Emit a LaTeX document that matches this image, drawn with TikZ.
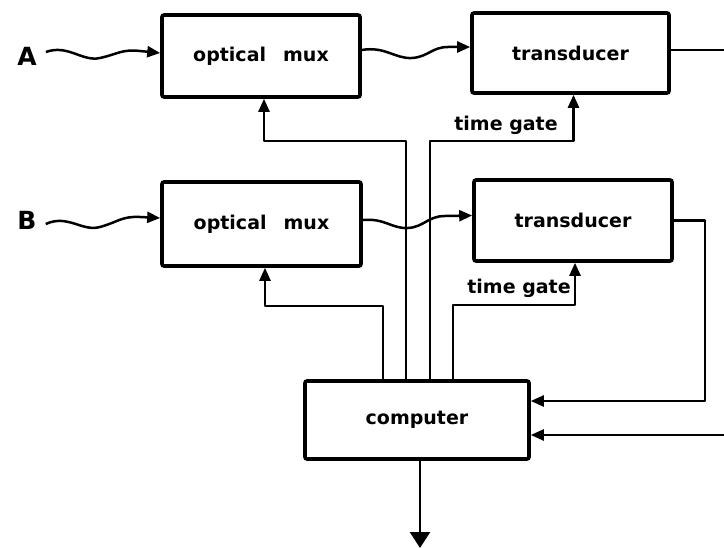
\documentclass[tikz,border=0pt]{standalone}
\usepackage{fontspec}
\setmainfont{DejaVu Sans}
\usetikzlibrary{arrows.meta,calc}
\begin{document}
\begin{tikzpicture}[x=1pt,y=-1pt,
  box/.style={draw,line width=3.6pt,rounded corners=2pt,inner sep=0pt,
    font=\fontsize{19}{22}\selectfont\bfseries},
  conn/.style={line width=2.5pt,line join=round},
  arr/.style={conn,-{Triangle[length=13pt,width=11pt]}},
  bigarr/.style={conn,-{Triangle[length=16pt,width=20pt]}},
  lab/.style={inner sep=0pt,font=\fontsize{19}{22}\selectfont\bfseries},
  big/.style={inner sep=0pt,font=\fontsize{25}{28}\selectfont\bfseries}]
\useasboundingbox (0,0) rectangle (724,548);

\node[box,minimum width=198pt,minimum height=82pt] (muxA) at (261,56) {optical\hspace{0.9em}mux};
\node[box,minimum width=197pt,minimum height=80pt] (transA) at (570.5,53) {transducer};
\node[box,minimum width=199pt,minimum height=84pt] (muxB) at (261.5,224) {optical\hspace{0.9em}mux};
\node[box,minimum width=198pt,minimum height=81pt] (transB) at (573,220.5) {transducer};
\node[box,minimum width=224pt,minimum height=78pt] (comp) at (417,420) {computer};

\node[big] (labA) at (27,56) {A};
\node[big] (labB) at (27,220) {B};
\node[lab] (tgA) at (506,125) {time gate};
\node[lab] (tgB) at (519,288) {time gate};

\coordinate (outA) at (724,50);
\coordinate (inR) at (724,435);
\coordinate (out) at (420,548);

% wavy optical inputs
\draw[arr] ([xshift=9pt,yshift=4pt]labA.east) .. controls (68,44) and (82,62) .. (100,58)
  .. controls (118,54) and (122,49) .. (140,51) -- ([yshift=3pt]muxA.west);
\draw[arr] ([xshift=9pt,yshift=-4pt]labB.east) .. controls (68,214) and (82,232) .. (100,227)
  .. controls (118,222) and (122,216) .. (140,217) -- ([yshift=6pt]muxB.west);
\draw[arr] ([yshift=6pt]muxA.east) .. controls (385,46) and (395,59) .. (412,58)
  .. controls (428,57) and (432,47) .. (448,47) -- ([yshift=6pt]transA.west);
\draw[arr] ([yshift=4pt]muxB.east) .. controls (385,218) and (392,229) .. (408,228)
  .. controls (424,227) and (428,216) .. (445,216) -- ([yshift=5pt]transB.west);

% control lines from computer
\draw[arr] ([xshift=-34pt]comp.north) -- ++(0,-73) -| ([xshift=3.5pt]muxB.south);
\draw[arr] ([xshift=-11pt]comp.north) -- ++(0,-238) -| ([xshift=3pt]muxA.south);
\draw[arr] ([xshift=13pt]comp.north) -- ++(0,-238) -| ([xshift=3pt]transA.south);
\draw[arr] ([xshift=36pt]comp.north) -- ++(0,-74) -| ([xshift=2pt]transB.south);

% outputs
\draw[conn] ([yshift=3pt]transA.east) -- (outA);
\draw[arr] (transB.east) -- ++(31,0) |- ([yshift=19pt]comp.east);
\draw[arr] (inR) -- ([yshift=-15pt]comp.east);
\draw[bigarr] ([xshift=3pt]comp.south) -- (out);
\end{tikzpicture}
\end{document}
